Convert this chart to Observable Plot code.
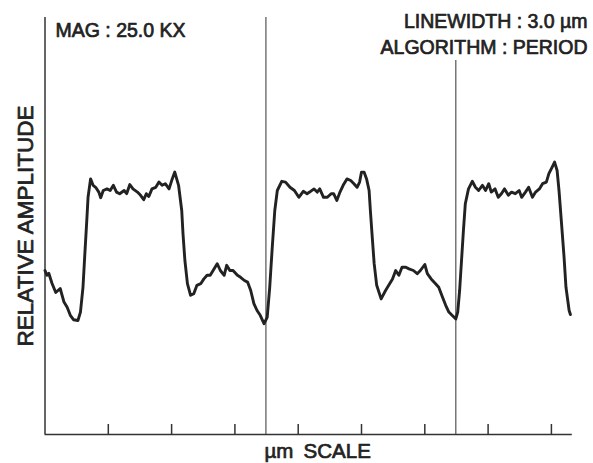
<!DOCTYPE html>
<html>
<head>
<meta charset="utf-8">
<script src="https://cdn.jsdelivr.net/npm/d3@7"></script>
<script src="https://cdn.jsdelivr.net/npm/@observablehq/plot@0.6"></script>
<style>
  html, body { margin: 0; padding: 0; background: #fff; }
  #chart svg { display: block; background: #fff; }
</style>
</head>
<body>
<div id="chart"></div>
<script>
// Scan position (µm)
const positions = [
  0.00, 0.03, 0.06, 0.11, 0.17, 0.24, 0.30, 0.35, 0.40, 0.45,
  0.52, 0.56, 0.60, 0.63, 0.66, 0.68, 0.72, 0.76, 0.80, 0.85,
  0.88, 0.92, 0.98, 1.03, 1.08, 1.13, 1.18, 1.25, 1.29, 1.34,
  1.39, 1.46, 1.51, 1.56, 1.60, 1.64, 1.69, 1.75, 1.80, 1.85,
  1.90, 1.96, 2.01, 2.05, 2.11, 2.16, 2.18, 2.21, 2.25, 2.30,
  2.35, 2.40, 2.46, 2.51, 2.56, 2.61, 2.67, 2.72, 2.77, 2.83,
  2.87, 2.92, 2.97, 3.04, 3.09, 3.15, 3.20, 3.25, 3.30, 3.35,
  3.40, 3.46, 3.51, 3.55, 3.59, 3.63, 3.67, 3.74, 3.80, 3.87,
  3.94, 4.01, 4.08, 4.14, 4.18, 4.25, 4.30, 4.34, 4.40, 4.46,
  4.52, 4.56, 4.61, 4.66, 4.71, 4.77, 4.83, 4.88, 4.93, 4.97,
  5.00, 5.04, 5.08, 5.12, 5.14, 5.17, 5.20, 5.24, 5.31, 5.38,
  5.43, 5.49, 5.54, 5.59, 5.64, 5.70, 5.75, 5.82, 5.88, 5.93,
  6.00, 6.04, 6.10, 6.17, 6.22, 6.28, 6.33, 6.38, 6.43, 6.49,
  6.52, 6.55, 6.58, 6.61, 6.64, 6.69, 6.75, 6.80, 6.85, 6.91,
  6.96, 7.01, 7.05, 7.11, 7.16, 7.21, 7.26, 7.32, 7.37, 7.43,
  7.49, 7.53, 7.59, 7.64, 7.70, 7.75, 7.81, 7.86, 7.92, 7.96,
  8.01, 8.05, 8.09, 8.12, 8.16, 8.20, 8.23, 8.28, 8.30
];
// Relative amplitude (arbitrary units)
const amplitudes = [
  41.0, 39.8, 40.3, 37.8, 35.5, 36.5, 33.1, 31.8, 29.8, 28.7,
  28.5, 30.6, 36.8, 45.3, 53.5, 59.3, 63.9, 62.3, 61.8, 60.6,
  59.2, 61.0, 61.4, 61.0, 62.3, 60.6, 60.2, 61.0, 60.2, 62.5,
  61.4, 60.6, 59.8, 58.7, 60.2, 59.5, 61.4, 61.8, 63.1, 62.3,
  62.7, 61.4, 63.9, 65.6, 62.3, 56.0, 50.2, 43.5, 37.7, 34.8,
  35.2, 37.3, 37.7, 38.9, 39.8, 39.8, 41.4, 42.7, 41.0, 39.8,
  42.3, 41.0, 41.0, 39.8, 39.3, 38.5, 38.1, 36.0, 32.7, 31.0,
  29.8, 27.7, 29.3, 36.8, 46.8, 56.0, 61.0, 63.3, 63.1, 61.8,
  61.0, 59.3, 60.8, 60.2, 60.6, 61.4, 60.6, 61.4, 59.3, 59.3,
  60.2, 60.2, 58.5, 60.6, 62.3, 63.9, 63.5, 62.7, 61.8, 63.1,
  65.6, 65.6, 63.9, 61.0, 56.0, 49.3, 42.7, 37.3, 33.9, 36.0,
  37.3, 38.9, 41.0, 39.8, 41.8, 41.8, 41.4, 41.0, 40.2, 41.0,
  42.5, 40.2, 38.9, 37.7, 36.8, 34.3, 32.3, 30.6, 29.8, 28.9,
  30.6, 36.0, 43.5, 51.0, 57.7, 61.4, 63.3, 61.8, 61.0, 62.3,
  61.0, 62.7, 60.6, 61.4, 59.3, 60.2, 61.4, 59.8, 60.6, 60.2,
  61.0, 59.3, 60.6, 61.8, 59.3, 60.6, 61.4, 62.7, 63.1, 65.2,
  66.8, 68.1, 66.0, 61.0, 52.7, 44.3, 36.8, 31.0, 30.0
];
// Tick marks along the µm scale (unlabelled)
const tickPositions = [1, 2, 3, 4, 5, 6, 7, 8];
// Period markers (vertical lines) and their top amplitude
const markerPositions = [3.49, 6.49];
const markerTops = [104.25, 93.5];
// Texts
const magText = "MAG : 25.0 KX";
const linewidthText = "LINEWIDTH : 3.0 µm";
const algorithmText = "ALGORITHM : PERIOD";
const xLabel = "µm\u2002SCALE";
const yLabel = "RELATIVE AMPLITUDE";

const xDomain = [0, 8.33];
const yDomain = [0, 104.25];

const trace = positions.map((p, i) => ({x: p, y: amplitudes[i]}));
const markers = markerPositions.map((p, i) => ({x: p, top: markerTops[i]}));

const ink = "#222";
const font = "'Liberation Sans', Arial, Helvetica, sans-serif";
const textStyle = {fill: ink, stroke: ink, strokeWidth: 0.7, fontFamily: font};

const chart = Plot.plot({
  width: 593,
  height: 463,
  marginLeft: 44.5,
  marginRight: 21.2,
  marginTop: 17,
  marginBottom: 29,
  style: {background: "#fff", fontFamily: font, color: ink},
  x: {domain: xDomain, axis: null},
  y: {domain: yDomain, axis: null},
  marks: [
    // frame: left and bottom axis lines
    Plot.ruleX([0], {stroke: "#333", strokeWidth: 1.5}),
    Plot.ruleY([0], {stroke: "#333", strokeWidth: 1.5}),
    // ticks pointing upward from the bottom axis
    Plot.ruleX(tickPositions, {x: d => d, y1: 0, y2: 2.5, stroke: "#333", strokeWidth: 1.5}),
    // period markers
    Plot.ruleX(markers, {x: "x", y1: 0, y2: "top", stroke: "#444", strokeWidth: 1.1}),
    // the amplitude trace
    Plot.line(trace, {x: "x", y: "y", stroke: ink, strokeWidth: 2.9, strokeLinejoin: "round", strokeLinecap: "round"}),
    // annotations
    Plot.text([magText], {text: d => d, frameAnchor: "top-left", textAnchor: "start", lineAnchor: "bottom",
      dx: 10.5, dy: 19, fontSize: 19.5, ...textStyle}),
    Plot.text([linewidthText], {text: d => d, frameAnchor: "top-right", textAnchor: "end", lineAnchor: "bottom",
      dx: 15.2, dy: 10, fontSize: 19.5, ...textStyle}),
    Plot.text([algorithmText], {text: d => d, frameAnchor: "top-right", textAnchor: "end", lineAnchor: "bottom",
      dx: 15.2, dy: 36.3, fontSize: 19.5, ...textStyle}),
    Plot.text([xLabel], {text: d => d, frameAnchor: "bottom", textAnchor: "middle", lineAnchor: "bottom",
      dx: 9, dy: 23, fontSize: 20.5, ...textStyle}),
    Plot.text([yLabel], {text: d => d, frameAnchor: "left", textAnchor: "middle", lineAnchor: "middle",
      rotate: -90, dx: -19.5, fontSize: 22.5, ...textStyle})
  ]
});

document.getElementById("chart").appendChild(chart);
</script>
</body>
</html>
